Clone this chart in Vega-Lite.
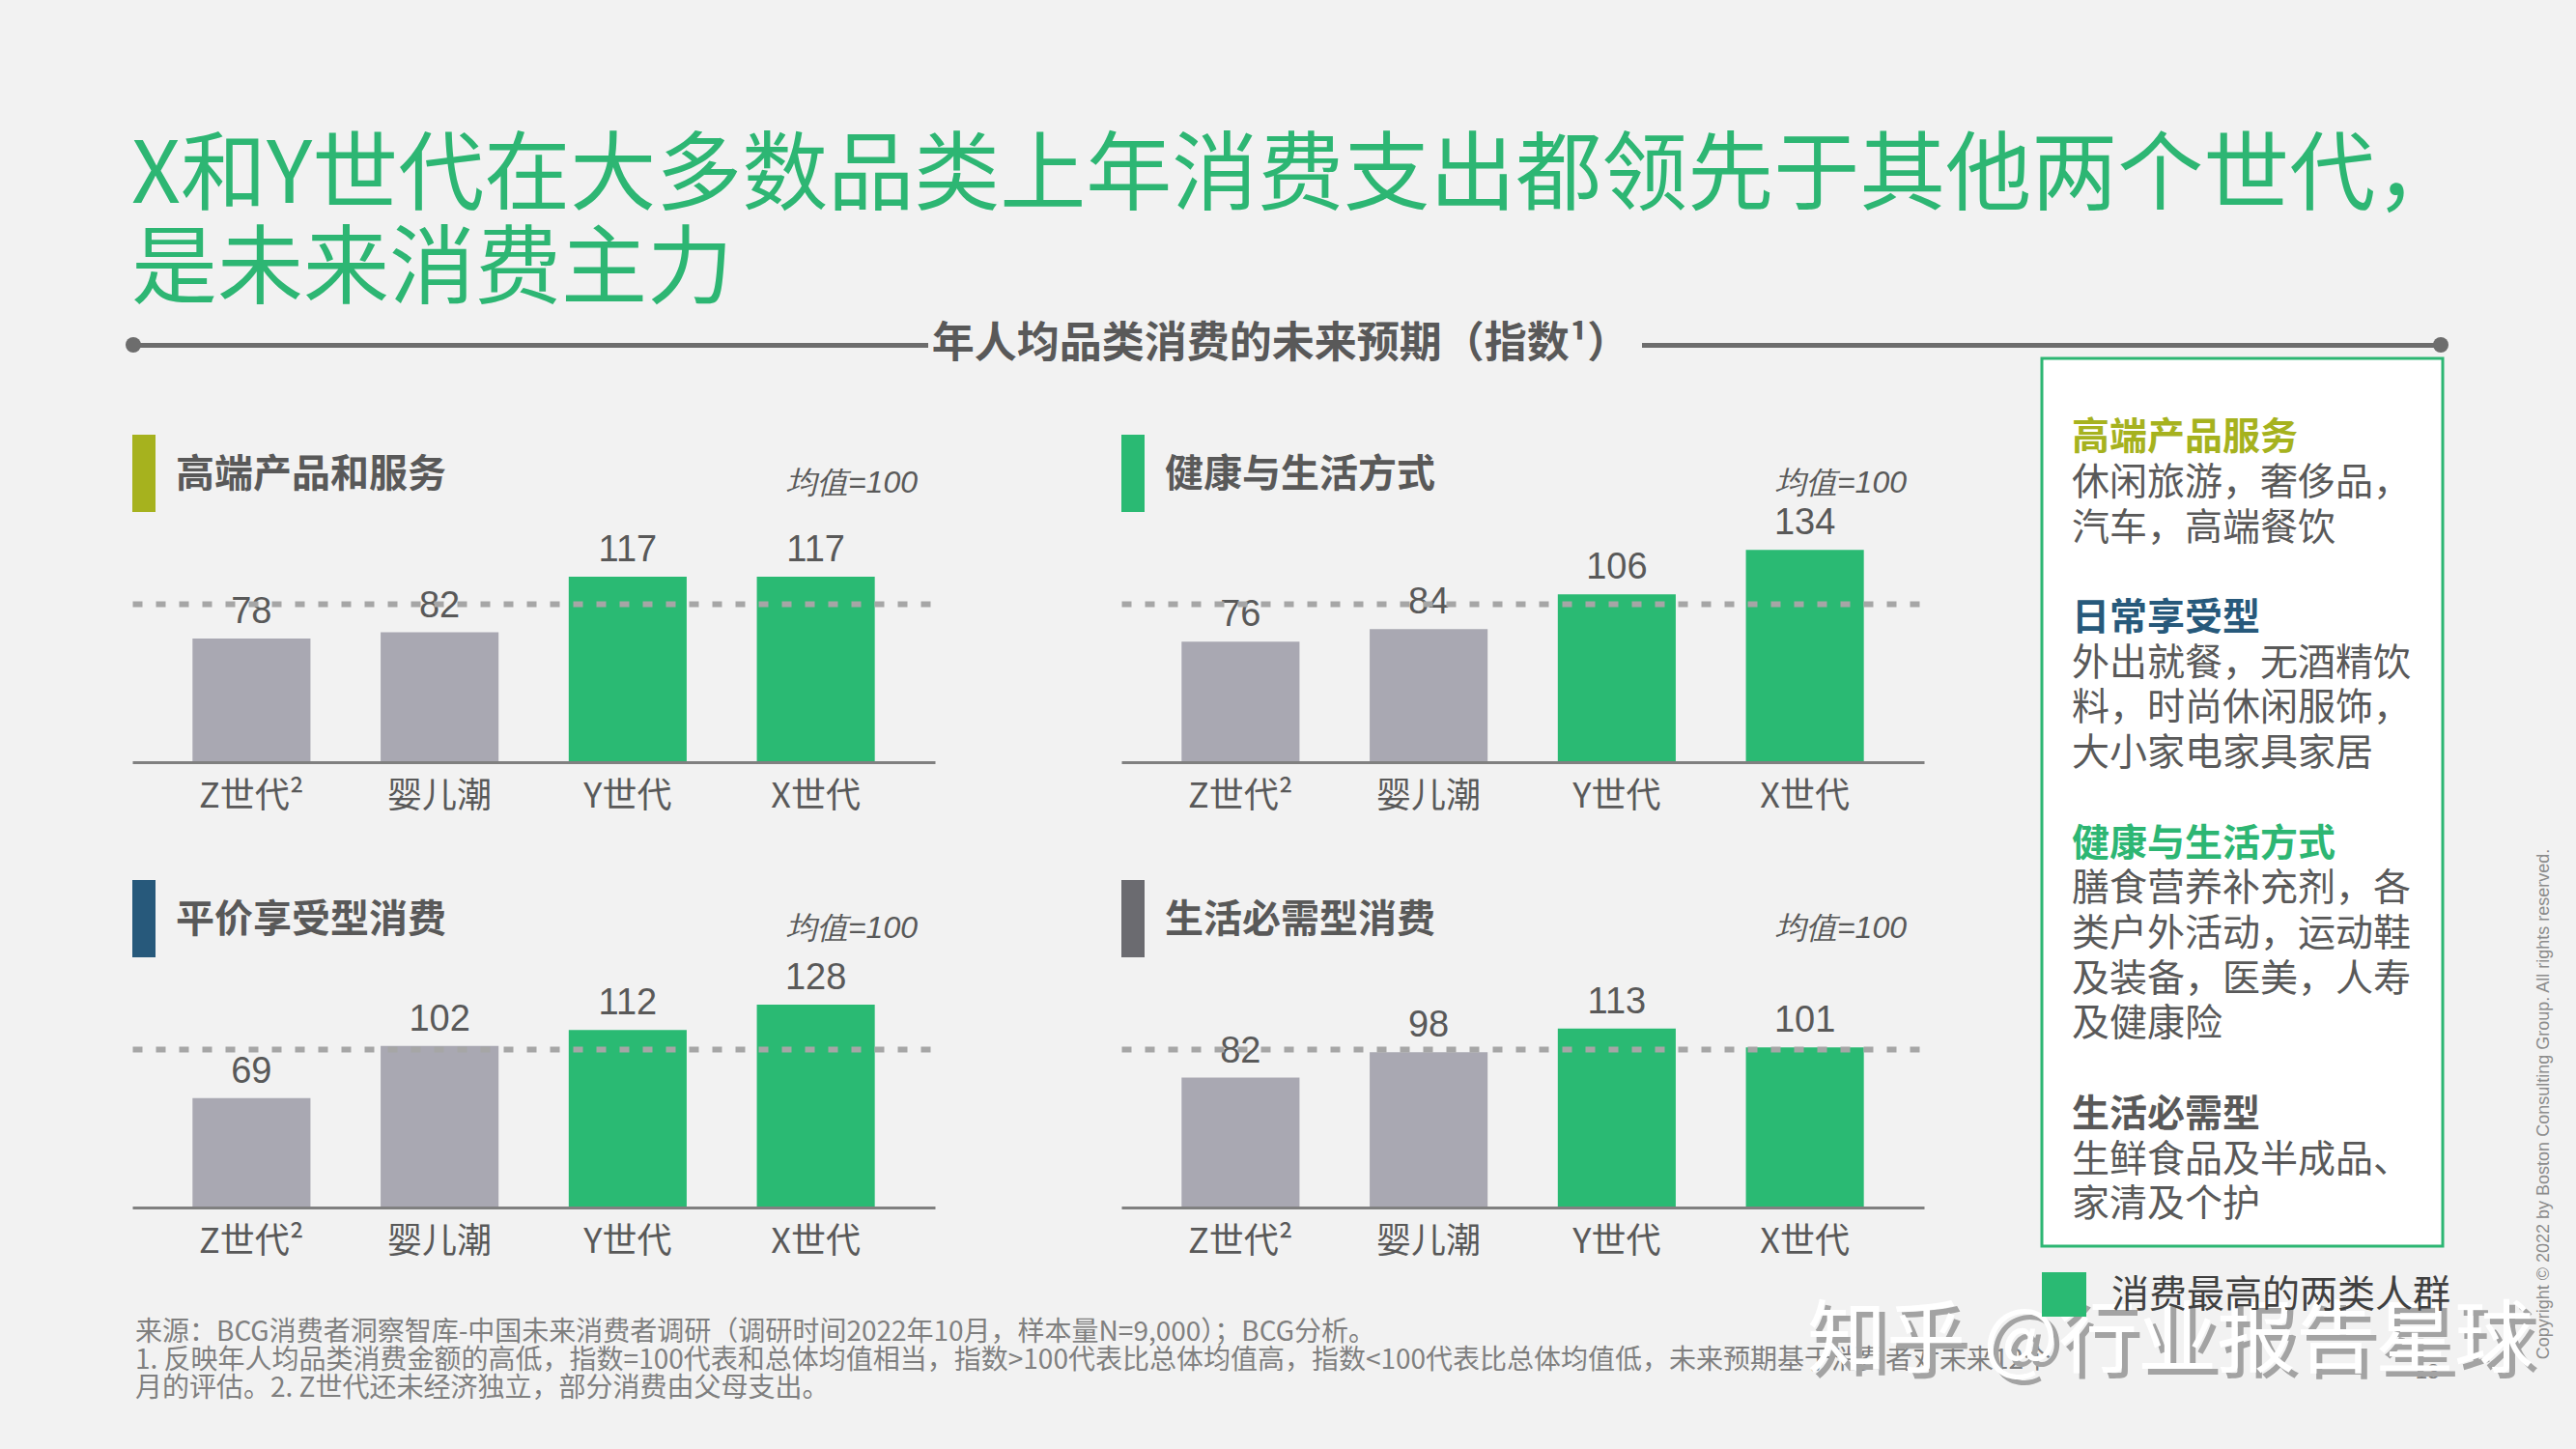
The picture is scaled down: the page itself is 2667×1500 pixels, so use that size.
{
  "background": "#f2f2f2",
  "padding": 0,
  "config": {"view": {"stroke": null}},
  "datasets": {
    "bars": [
      {"panel": "高端产品和服务", "gen": "Z世代²", "value": 78, "grp": "其他"},
      {"panel": "高端产品和服务", "gen": "Y世代", "value": 117, "grp": "消费最高的两类人群"},
      {"panel": "高端产品和服务", "gen": "X世代", "value": 117, "grp": "消费最高的两类人群"},
      {"panel": "高端产品和服务", "gen": "婴儿潮", "value": 82, "grp": "其他"},
      {"panel": "健康与生活方式", "gen": "Z世代²", "value": 76, "grp": "其他"},
      {"panel": "健康与生活方式", "gen": "Y世代", "value": 106, "grp": "消费最高的两类人群"},
      {"panel": "健康与生活方式", "gen": "X世代", "value": 134, "grp": "消费最高的两类人群"},
      {"panel": "健康与生活方式", "gen": "婴儿潮", "value": 84, "grp": "其他"},
      {"panel": "平价享受型消费", "gen": "Z世代²", "value": 69, "grp": "其他"},
      {"panel": "平价享受型消费", "gen": "Y世代", "value": 112, "grp": "消费最高的两类人群"},
      {"panel": "平价享受型消费", "gen": "X世代", "value": 128, "grp": "消费最高的两类人群"},
      {"panel": "平价享受型消费", "gen": "婴儿潮", "value": 102, "grp": "其他"},
      {"panel": "生活必需型消费", "gen": "Z世代²", "value": 82, "grp": "其他"},
      {"panel": "生活必需型消费", "gen": "Y世代", "value": 113, "grp": "消费最高的两类人群"},
      {"panel": "生活必需型消费", "gen": "X世代", "value": 101, "grp": "消费最高的两类人群"},
      {"panel": "生活必需型消费", "gen": "婴儿潮", "value": 98, "grp": "其他"}
    ],
    "boxlines": [
      {"i": 0, "text": "高端产品服务", "kind": "高端产品服务"},
      {"i": 1, "text": "休闲旅游，奢侈品，", "kind": "body"},
      {"i": 2, "text": "汽车，高端餐饮", "kind": "body"},
      {"i": 4, "text": "日常享受型", "kind": "日常享受型"},
      {"i": 5, "text": "外出就餐，无酒精饮", "kind": "body"},
      {"i": 6, "text": "料，时尚休闲服饰，", "kind": "body"},
      {"i": 7, "text": "大小家电家具家居", "kind": "body"},
      {"i": 9, "text": "健康与生活方式", "kind": "健康与生活方式"},
      {"i": 10, "text": "膳食营养补充剂，各", "kind": "body"},
      {"i": 11, "text": "类户外活动，运动鞋", "kind": "body"},
      {"i": 12, "text": "及装备，医美，人寿", "kind": "body"},
      {"i": 13, "text": "及健康险", "kind": "body"},
      {"i": 15, "text": "生活必需型", "kind": "生活必需型"},
      {"i": 16, "text": "生鲜食品及半成品、", "kind": "body"},
      {"i": 17, "text": "家清及个护", "kind": "body"}
    ],
    "notes": [
      {"line": 1, "text": "来源：BCG消费者洞察智库-中国未来消费者调研（调研时间2022年10月，样本量N=9,000）；BCG分析。"},
      {"line": 2, "text": "1. 反映年人均品类消费金额的高低，指数=100代表和总体均值相当，指数>100代表比总体均值高，指数<100代表比总体均值低，未来预期基于消费者对未来12个"},
      {"line": 3, "text": "月的评估。2. Z世代还未经济独立，部分消费由父母支出。"}
    ],
    "heading": [
      {"line": 1, "text": "X和Y世代在大多数品类上年消费支出都领先于其他两个世代，"},
      {"line": 2, "text": "是未来消费主力"}
    ]
  },
  "bounds": "flush",
  "spacing": 0,
  "vconcat": [
    {
      "width": 2667,
      "height": 371,
      "layer": [
        {
          "data": {"name": "heading"},
          "transform": [{"filter": {"field": "line", "equal": 1}}],
          "mark": {"type": "text", "align": "left", "baseline": "middle", "fontSize": 89, "color": "#2db673", "font": "Noto Sans CJK SC"},
          "encoding": {"text": {"field": "text", "type": "nominal"}, "x": {"value": 136}, "y": {"value": 183}}
        },
        {
          "data": {"name": "heading"},
          "transform": [{"filter": {"field": "line", "equal": 2}}],
          "mark": {"type": "text", "align": "left", "baseline": "middle", "fontSize": 89, "color": "#2db673", "font": "Noto Sans CJK SC"},
          "encoding": {"text": {"field": "text", "type": "nominal"}, "x": {"value": 136}, "y": {"value": 280}}
        },
        {
          "data": {"values": [{"k": 1}]},
          "mark": {"type": "rect", "color": "#6d6d6d"},
          "encoding": {"x": {"value": 136}, "x2": {"value": 961}, "y": {"value": 355}, "y2": {"value": 360}}
        },
        {
          "data": {"values": [{"k": 1}]},
          "mark": {"type": "rect", "color": "#6d6d6d"},
          "encoding": {"x": {"value": 1700}, "x2": {"value": 2529}, "y": {"value": 355}, "y2": {"value": 360}}
        },
        {
          "data": {"values": [{"k": 1}]},
          "mark": {"type": "circle", "size": 256, "color": "#6d6d6d", "opacity": 1},
          "encoding": {"x": {"value": 138}, "y": {"value": 357}}
        },
        {
          "data": {"values": [{"k": 1}]},
          "mark": {"type": "circle", "size": 256, "color": "#6d6d6d", "opacity": 1},
          "encoding": {"x": {"value": 2527}, "y": {"value": 357}}
        },
        {
          "data": {"values": [{"t": "年人均品类消费的未来预期（指数¹）"}]},
          "mark": {"type": "text", "align": "center", "baseline": "middle", "fontSize": 44, "fontWeight": "bold", "color": "#595959", "font": "Noto Sans CJK SC"},
          "encoding": {"text": {"field": "t", "type": "nominal"}, "x": {"value": 1326}, "y": {"value": 357}}
        }
      ]
    },
    {
      "bounds": "flush",
      "spacing": 0,
      "hconcat": [
        {"width": 137, "height": 1, "data": {"values": [{"k": 1}]}, "mark": {"type": "text"}, "encoding": {"text": {"value": " "}}},
        {
          "bounds": "flush",
          "spacing": 0,
          "vconcat": [
            {"width": 1855, "height": 79, "data": {"values": [{"k": 1}]}, "mark": {"type": "text"}, "encoding": {"text": {"value": " "}}},
            {
              "bounds": "flush",
              "spacing": 0,
              "hconcat": [
                {
                  "bounds": "flush",
                  "spacing": 13,
                  "vconcat": [
                    {
                      "width": 831, "height": 80,
                      "data": {"values": [{"t": "高端产品和服务"}]},
                      "layer": [
                        {"mark": {"type": "rect", "color": "#a6b21e"}, "encoding": {"x": {"value": 0}, "x2": {"value": 24}, "y": {"value": 0}, "y2": {"value": 80}}},
                        {"mark": {"type": "text", "align": "left", "baseline": "middle", "fontSize": 40, "fontWeight": "bold", "color": "#595959", "font": "Noto Sans CJK SC"}, "encoding": {"text": {"field": "t", "type": "nominal"}, "x": {"value": 45}, "y": {"value": 42}}},
                        {"mark": {"type": "text", "align": "right", "baseline": "middle", "fontSize": 32, "fontStyle": "italic", "color": "#595959", "font": "Liberation Sans"}, "encoding": {"text": {"value": "均值=100"}, "x": {"value": 813}, "y": {"value": 50}}}
                      ]
                    },
                    {
                      "width": 831, "height": 246,
                      "data": {"name": "bars"},
                      "transform": [{"filter": {"field": "panel", "equal": "高端产品和服务"}}],
                      "encoding": {
                        "x": {"field": "gen", "type": "nominal", "sort": null, "scale": {"paddingInner": 0.373, "paddingOuter": 0.32}, "axis": {"title": null, "labelAngle": 0, "labelFontSize": 36, "labelFont": "Noto Sans CJK SC", "labelColor": "#595959", "labelPadding": 18, "ticks": false, "domainColor": "#808080", "domainWidth": 3, "grid": false, "zindex": 1}},
                        "y": {"field": "value", "type": "quantitative", "scale": {"domain": [0, 150], "nice": false}, "axis": {"values": [100], "grid": true, "gridDash": [10, 14], "gridColor": "#a6a6a6", "gridWidth": 6, "labels": false, "ticks": false, "domain": false, "title": null, "zindex": 1}}
                      },
                      "layer": [
                        {"transform": [{"filter": {"field": "grp", "equal": "其他"}}], "mark": {"type": "bar", "color": "#a9a8b2"}},
                        {"transform": [{"filter": {"field": "grp", "equal": "消费最高的两类人群"}}], "mark": {"type": "bar", "color": "#2aba73"}},
                        {"mark": {"type": "text", "baseline": "bottom", "dy": -8, "fontSize": 38, "font": "Liberation Sans", "color": "#595959"}, "encoding": {"text": {"field": "value", "type": "nominal"}}}
                      ]
                    }
                  ]
                },
                {"width": 1024, "height": 1, "data": {"values": [{"k": 1}]}, "mark": {"type": "text"}, "encoding": {"text": {"value": " "}}},
                {
                  "bounds": "flush",
                  "spacing": 13,
                  "vconcat": [
                    {
                      "width": 831, "height": 80,
                      "data": {"values": [{"t": "健康与生活方式"}]},
                      "layer": [
                        {"mark": {"type": "rect", "color": "#2aba73"}, "encoding": {"x": {"value": 0}, "x2": {"value": 24}, "y": {"value": 0}, "y2": {"value": 80}}},
                        {"mark": {"type": "text", "align": "left", "baseline": "middle", "fontSize": 40, "fontWeight": "bold", "color": "#595959", "font": "Noto Sans CJK SC"}, "encoding": {"text": {"field": "t", "type": "nominal"}, "x": {"value": 45}, "y": {"value": 42}}},
                        {"mark": {"type": "text", "align": "right", "baseline": "middle", "fontSize": 32, "fontStyle": "italic", "color": "#595959", "font": "Liberation Sans"}, "encoding": {"text": {"value": "均值=100"}, "x": {"value": 813}, "y": {"value": 50}}}
                      ]
                    },
                    {
                      "width": 831, "height": 246,
                      "data": {"name": "bars"},
                      "transform": [{"filter": {"field": "panel", "equal": "健康与生活方式"}}],
                      "encoding": {
                        "x": {"field": "gen", "type": "nominal", "sort": null, "scale": {"paddingInner": 0.373, "paddingOuter": 0.32}, "axis": {"title": null, "labelAngle": 0, "labelFontSize": 36, "labelFont": "Noto Sans CJK SC", "labelColor": "#595959", "labelPadding": 18, "ticks": false, "domainColor": "#808080", "domainWidth": 3, "grid": false, "zindex": 1}},
                        "y": {"field": "value", "type": "quantitative", "scale": {"domain": [0, 150], "nice": false}, "axis": {"values": [100], "grid": true, "gridDash": [10, 14], "gridColor": "#a6a6a6", "gridWidth": 6, "labels": false, "ticks": false, "domain": false, "title": null, "zindex": 1}}
                      },
                      "layer": [
                        {"transform": [{"filter": {"field": "grp", "equal": "其他"}}], "mark": {"type": "bar", "color": "#a9a8b2"}},
                        {"transform": [{"filter": {"field": "grp", "equal": "消费最高的两类人群"}}], "mark": {"type": "bar", "color": "#2aba73"}},
                        {"mark": {"type": "text", "baseline": "bottom", "dy": -8, "fontSize": 38, "font": "Liberation Sans", "color": "#595959"}, "encoding": {"text": {"field": "value", "type": "nominal"}}}
                      ]
                    }
                  ]
                }
              ]
            },
            {"width": 1855, "height": 461, "data": {"values": [{"k": 1}]}, "mark": {"type": "text"}, "encoding": {"text": {"value": " "}}},
            {
              "bounds": "flush",
              "spacing": 0,
              "hconcat": [
                {
                  "bounds": "flush",
                  "spacing": 13,
                  "vconcat": [
                    {
                      "width": 831, "height": 80,
                      "data": {"values": [{"t": "平价享受型消费"}]},
                      "layer": [
                        {"mark": {"type": "rect", "color": "#27597b"}, "encoding": {"x": {"value": 0}, "x2": {"value": 24}, "y": {"value": 0}, "y2": {"value": 80}}},
                        {"mark": {"type": "text", "align": "left", "baseline": "middle", "fontSize": 40, "fontWeight": "bold", "color": "#595959", "font": "Noto Sans CJK SC"}, "encoding": {"text": {"field": "t", "type": "nominal"}, "x": {"value": 45}, "y": {"value": 42}}},
                        {"mark": {"type": "text", "align": "right", "baseline": "middle", "fontSize": 32, "fontStyle": "italic", "color": "#595959", "font": "Liberation Sans"}, "encoding": {"text": {"value": "均值=100"}, "x": {"value": 813}, "y": {"value": 50}}}
                      ]
                    },
                    {
                      "width": 831, "height": 246,
                      "data": {"name": "bars"},
                      "transform": [{"filter": {"field": "panel", "equal": "平价享受型消费"}}],
                      "encoding": {
                        "x": {"field": "gen", "type": "nominal", "sort": null, "scale": {"paddingInner": 0.373, "paddingOuter": 0.32}, "axis": {"title": null, "labelAngle": 0, "labelFontSize": 36, "labelFont": "Noto Sans CJK SC", "labelColor": "#595959", "labelPadding": 18, "ticks": false, "domainColor": "#808080", "domainWidth": 3, "grid": false, "zindex": 1}},
                        "y": {"field": "value", "type": "quantitative", "scale": {"domain": [0, 150], "nice": false}, "axis": {"values": [100], "grid": true, "gridDash": [10, 14], "gridColor": "#a6a6a6", "gridWidth": 6, "labels": false, "ticks": false, "domain": false, "title": null, "zindex": 1}}
                      },
                      "layer": [
                        {"transform": [{"filter": {"field": "grp", "equal": "其他"}}], "mark": {"type": "bar", "color": "#a9a8b2"}},
                        {"transform": [{"filter": {"field": "grp", "equal": "消费最高的两类人群"}}], "mark": {"type": "bar", "color": "#2aba73"}},
                        {"mark": {"type": "text", "baseline": "bottom", "dy": -8, "fontSize": 38, "font": "Liberation Sans", "color": "#595959"}, "encoding": {"text": {"field": "value", "type": "nominal"}}}
                      ]
                    }
                  ]
                },
                {"width": 1024, "height": 1, "data": {"values": [{"k": 1}]}, "mark": {"type": "text"}, "encoding": {"text": {"value": " "}}},
                {
                  "bounds": "flush",
                  "spacing": 13,
                  "vconcat": [
                    {
                      "width": 831, "height": 80,
                      "data": {"values": [{"t": "生活必需型消费"}]},
                      "layer": [
                        {"mark": {"type": "rect", "color": "#6b6b70"}, "encoding": {"x": {"value": 0}, "x2": {"value": 24}, "y": {"value": 0}, "y2": {"value": 80}}},
                        {"mark": {"type": "text", "align": "left", "baseline": "middle", "fontSize": 40, "fontWeight": "bold", "color": "#595959", "font": "Noto Sans CJK SC"}, "encoding": {"text": {"field": "t", "type": "nominal"}, "x": {"value": 45}, "y": {"value": 42}}},
                        {"mark": {"type": "text", "align": "right", "baseline": "middle", "fontSize": 32, "fontStyle": "italic", "color": "#595959", "font": "Liberation Sans"}, "encoding": {"text": {"value": "均值=100"}, "x": {"value": 813}, "y": {"value": 50}}}
                      ]
                    },
                    {
                      "width": 831, "height": 246,
                      "data": {"name": "bars"},
                      "transform": [{"filter": {"field": "panel", "equal": "生活必需型消费"}}],
                      "encoding": {
                        "x": {"field": "gen", "type": "nominal", "sort": null, "scale": {"paddingInner": 0.373, "paddingOuter": 0.32}, "axis": {"title": null, "labelAngle": 0, "labelFontSize": 36, "labelFont": "Noto Sans CJK SC", "labelColor": "#595959", "labelPadding": 18, "ticks": false, "domainColor": "#808080", "domainWidth": 3, "grid": false, "zindex": 1}},
                        "y": {"field": "value", "type": "quantitative", "scale": {"domain": [0, 150], "nice": false}, "axis": {"values": [100], "grid": true, "gridDash": [10, 14], "gridColor": "#a6a6a6", "gridWidth": 6, "labels": false, "ticks": false, "domain": false, "title": null, "zindex": 1}}
                      },
                      "layer": [
                        {"transform": [{"filter": {"field": "grp", "equal": "其他"}}], "mark": {"type": "bar", "color": "#a9a8b2"}},
                        {"transform": [{"filter": {"field": "grp", "equal": "消费最高的两类人群"}}], "mark": {"type": "bar", "color": "#2aba73"}},
                        {"mark": {"type": "text", "baseline": "bottom", "dy": -8, "fontSize": 38, "font": "Liberation Sans", "color": "#595959"}, "encoding": {"text": {"field": "value", "type": "nominal"}}}
                      ]
                    }
                  ]
                }
              ]
            },
            {"width": 1855, "height": 339, "data": {"values": [{"k": 1}]}, "mark": {"type": "text"}, "encoding": {"text": {"value": " "}}},
            {
              "width": 1855, "height": 250,
              "layer": [
                {
                  "data": {"name": "notes"},
                  "transform": [{"filter": {"field": "line", "equal": 1}}],
                  "mark": {"type": "text", "align": "left", "baseline": "middle", "fontSize": 28, "color": "#7f7f7f", "font": "Noto Sans CJK SC"},
                  "encoding": {"text": {"field": "text", "type": "nominal"}, "x": {"value": 3}, "y": {"value": 130}}
                },
                {
                  "data": {"name": "notes"},
                  "transform": [{"filter": {"field": "line", "equal": 2}}],
                  "mark": {"type": "text", "align": "left", "baseline": "middle", "fontSize": 28, "color": "#7f7f7f", "font": "Noto Sans CJK SC"},
                  "encoding": {"text": {"field": "text", "type": "nominal"}, "x": {"value": 3}, "y": {"value": 159}}
                },
                {
                  "data": {"name": "notes"},
                  "transform": [{"filter": {"field": "line", "equal": 3}}],
                  "mark": {"type": "text", "align": "left", "baseline": "middle", "fontSize": 28, "color": "#7f7f7f", "font": "Noto Sans CJK SC"},
                  "encoding": {"text": {"field": "text", "type": "nominal"}, "x": {"value": 3}, "y": {"value": 188}}
                },
                {
                  "data": {"values": [{"t": "13"}]},
                  "mark": {"type": "text", "align": "center", "baseline": "middle", "fontSize": 22, "font": "Liberation Sans", "color": "#7f7f7f"},
                  "encoding": {"text": {"field": "t", "type": "nominal"}, "x": {"value": 2376}, "y": {"value": 170}}
                },
                {
                  "data": {"values": [{"t": "知乎 @行业报告星球"}]},
                  "mark": {"type": "text", "align": "left", "baseline": "middle", "fontSize": 82, "color": "#a3a3a3", "font": "Noto Sans CJK SC"},
                  "encoding": {"text": {"field": "t", "type": "nominal"}, "x": {"value": 1740}, "y": {"value": 145}}
                },
                {
                  "data": {"values": [{"t": "知乎 @行业报告星球"}]},
                  "mark": {"type": "text", "align": "left", "baseline": "middle", "fontSize": 82, "color": "#ffffff", "font": "Noto Sans CJK SC"},
                  "encoding": {"text": {"field": "t", "type": "nominal"}, "x": {"value": 1734}, "y": {"value": 139}}
                }
              ]
            }
          ]
        },
        {"width": 1977, "height": 1, "data": {"values": [{"k": 1}]}, "mark": {"type": "text"}, "encoding": {"text": {"value": " "}}},
        {
          "width": 415, "height": 1129,
          "data": {"name": "boxlines"},
          "encoding": {
            "x": {"value": 31},
            "y": {"field": "i", "type": "quantitative", "scale": {"domain": [-1.76, 22.41], "reverse": true, "nice": false, "zero": false}, "axis": null},
            "text": {"field": "text", "type": "nominal"}
          },
          "layer": [
            {
              "data": {"values": [{"k": 1}]},
              "mark": {"type": "rect", "fill": "#ffffff", "stroke": "#2db673", "strokeWidth": 3},
              "encoding": {"x": {"value": 0}, "x2": {"value": 415}, "y": {"value": 0}, "y2": {"value": 919}, "text": {"value": ""}}
            },
            {"transform": [{"filter": {"field": "kind", "equal": "body"}}], "mark": {"type": "text", "align": "left", "baseline": "middle", "fontSize": 39, "color": "#595959", "font": "Noto Sans CJK SC"}},
            {"transform": [{"filter": {"field": "kind", "equal": "高端产品服务"}}], "mark": {"type": "text", "align": "left", "baseline": "middle", "fontSize": 39, "fontWeight": "bold", "color": "#a6b21e", "font": "Noto Sans CJK SC"}},
            {"transform": [{"filter": {"field": "kind", "equal": "日常享受型"}}], "mark": {"type": "text", "align": "left", "baseline": "middle", "fontSize": 39, "fontWeight": "bold", "color": "#27597b", "font": "Noto Sans CJK SC"}},
            {"transform": [{"filter": {"field": "kind", "equal": "健康与生活方式"}}], "mark": {"type": "text", "align": "left", "baseline": "middle", "fontSize": 39, "fontWeight": "bold", "color": "#2db673", "font": "Noto Sans CJK SC"}},
            {"transform": [{"filter": {"field": "kind", "equal": "生活必需型"}}], "mark": {"type": "text", "align": "left", "baseline": "middle", "fontSize": 39, "fontWeight": "bold", "color": "#595959", "font": "Noto Sans CJK SC"}},
            {
              "data": {"values": [{"k": 1}]},
              "mark": {"type": "rect", "color": "#2aba73"},
              "encoding": {"x": {"value": 0}, "x2": {"value": 46}, "y": {"value": 946}, "y2": {"value": 992}, "text": {"value": ""}}
            },
            {
              "data": {"values": [{"t": "消费最高的两类人群"}]},
              "mark": {"type": "text", "align": "left", "baseline": "middle", "fontSize": 39, "color": "#404040", "font": "Noto Sans CJK SC"},
              "encoding": {"text": {"field": "t", "type": "nominal"}, "x": {"value": 72}, "y": {"value": 970}}
            }
          ]
        },
        {
          "width": 138, "height": 1129,
          "data": {"values": [{"t": "Copyright © 2022 by Boston Consulting Group. All rights reserved."}]},
          "mark": {"type": "text", "angle": 270, "align": "center", "baseline": "middle", "fontSize": 18, "font": "Liberation Sans", "color": "#8c8c8c"},
          "encoding": {"text": {"field": "t", "type": "nominal"}, "x": {"value": 105}, "y": {"value": 772}}
        }
      ]
    }
  ]
}
